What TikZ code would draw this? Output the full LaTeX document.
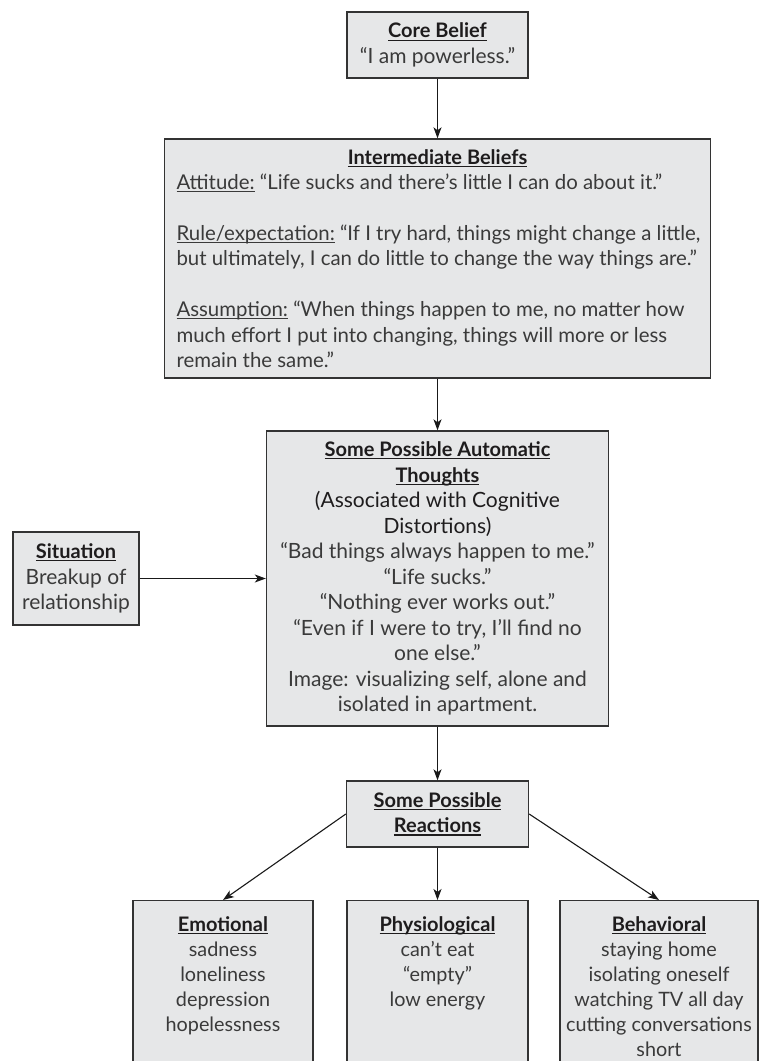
\documentclass[tikz,border=0pt]{standalone}
\usepackage{fontspec}
\setmainfont{Lato}
\usetikzlibrary{arrows.meta}

\definecolor{boxfill}{HTML}{E6E7E8}
\definecolor{boxline}{HTML}{333333}
\definecolor{bodytext}{HTML}{3A3A3A}
\definecolor{headtext}{HTML}{1E1C1D}

% bold heading with an underline at a fixed depth
\newsavebox\headbox
\newcommand\headline[1]{\sbox\headbox{\color{headtext}\fontsize{20}{25.5}\selectfont\bfseries #1}%
  \mbox{\rlap{\color{headtext}\rule[-2.8pt]{\wd\headbox}{1.1pt}}\usebox\headbox}}
% underlined label inside body text
\newsavebox\lblbox
\newcommand\lbl[1]{\sbox\lblbox{#1}%
  \mbox{\rlap{\rule[-2.6pt]{\wd\lblbox}{0.8pt}}\usebox\lblbox}}

\tikzset{
  box/.style={draw=boxline, line width=1.4pt, fill=boxfill, inner sep=0pt},
  body/.style={text=bodytext, font=\fontsize{21}{25.5}\selectfont, align=center, inner sep=0pt},
  list/.style={body, font=\fontsize{19.8}{25}\selectfont, anchor=north},
  arr/.style={-{Stealth[length=11pt,width=8pt,inset=3pt]}, line width=1.1pt, draw=black!90},
}

\begin{document}
\begin{tikzpicture}[x=1pt,y=-1pt]
\path[use as bounding box] (0,0) rectangle (764,1061);
\clip (0,0) rectangle (764,1061);

% core belief
\node[box, body, minimum width=181, minimum height=66] (core) at (437.5,45)
  {\headline{Core Belief}\\“I am powerless.”};

% intermediate beliefs: each printed line kept whole
\node[box, body, font=\fontsize{20.4}{25.4}\selectfont, minimum width=546, minimum height=239,
      text width=522, align=none] (inter) at (437.5,258.5)
  {\hbadness=10000 \hfuzz=100pt
   \centering\headline{Intermediate Beliefs}\par
   \raggedright
   \mbox{\lbl{Attitude:} “Life sucks and there’s little I can do about it.”}\par\vspace{25.4pt}
   \mbox{\lbl{Rule/expectation:} “If I try hard, things might change a little,}\\
   \mbox{but ultimately, I can do little to change the way things are.”}\par\vspace{25.4pt}
   \mbox{\lbl{Assumption:} “When things happen to me, no matter how}\\
   \mbox{much effort I put into changing, things will more or less}\\
   \mbox{remain the same.”}\par};

% automatic thoughts
\node[box, body, minimum width=342, minimum height=295] (auto) at (437.5,578.5)
  {\headline{Some Possible Automatic}\\
   \headline{Thoughts}\\
   {\color{headtext}(Associated with Cognitive}\\
   {\color{headtext}Distortions)}\\
   “Bad things always happen to me.”\\
   “Life sucks.”\\
   “Nothing ever works out.”\\
   “Even if I were to try, I’ll find no\\
   one else.”\\
   Image: visualizing self, alone and\\
   isolated in apartment.};

% situation
\node[box, body, minimum width=126, minimum height=93] (sit) at (76,578.5)
  {\headline{Situation}\\Breakup of\\relationship};

% reactions
\node[box, body, minimum width=182, minimum height=66] (reac) at (437.5,814)
  {\headline{Some Possible}\\\headline{Reactions}};

% reaction categories (boxes run past the lower edge)
\node[box, minimum width=180, minimum height=200, anchor=north] (emo) at (223,900) {};
\node[box, minimum width=181, minimum height=200, anchor=north] (phys) at (437.5,900) {};
\node[box, minimum width=198, minimum height=200, anchor=north] (beh) at (659,900) {};

\node[list] (emotext) at ([yshift=-16]emo.north)
  {\headline{Emotional}\\sadness\\loneliness\\depression\\hopelessness};
\node[list] (phystext) at ([yshift=-16]phys.north)
  {\headline{Physiological}\\can’t eat\\“empty”\\low energy};
\node[list] (behtext) at ([yshift=-16]beh.north)
  {\headline{Behavioral}\\staying home\\isolating oneself\\watching TV all day\\cutting conversations\\short};

% connectors
\draw[arr] (core) -- (inter);
\draw[arr] (inter) -- (auto);
\draw[arr] (sit) -- (auto);
\draw[arr] (auto) -- (reac);
\draw[arr] (reac.west) -- (emo.north);
\draw[arr] (reac) -- (phys);
\draw[arr] (reac.east) -- (beh.north);
\end{tikzpicture}
\end{document}
